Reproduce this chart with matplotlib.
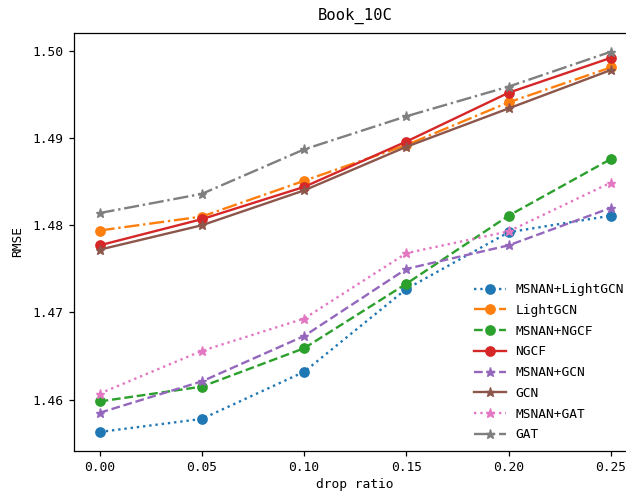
import matplotlib
matplotlib.use("Agg")
import matplotlib.pyplot as plt

plt.rcParams['font.family'] = ['DejaVu Sans Mono']
plt.rcParams['axes.unicode_minus'] = False

drop_ratio = [0.00, 0.05, 0.10, 0.15, 0.20, 0.25]

msnan_lightgcn = [1.4563, 1.4578, 1.4632, 1.4727, 1.4792, 1.4811]
lightgcn       = [1.4794, 1.4810, 1.4851, 1.4892, 1.4941, 1.4981]
msnan_ngcf     = [1.4598, 1.4615, 1.4659, 1.4733, 1.4811, 1.4876]
ngcf           = [1.4777, 1.4807, 1.4844, 1.4896, 1.4952, 1.4992]
msnan_gcn      = [1.4585, 1.4621, 1.4673, 1.4750, 1.4777, 1.4820]
gcn            = [1.4772, 1.4800, 1.4840, 1.4890, 1.4934, 1.4978]
msnan_gat      = [1.4607, 1.4656, 1.4693, 1.4768, 1.4793, 1.4849]
gat            = [1.4814, 1.4836, 1.4887, 1.4925, 1.4959, 1.4999]

series = [
    ("MSNAN+LightGCN", msnan_lightgcn, ":",  "o", "C0"),
    ("LightGCN",       lightgcn,       "-.", "o", "C1"),
    ("MSNAN+NGCF",     msnan_ngcf,     "--", "o", "C2"),
    ("NGCF",           ngcf,           "-",  "o", "C3"),
    ("MSNAN+GCN",      msnan_gcn,      "--", "*", "C4"),
    ("GCN",            gcn,            "-",  "*", "C5"),
    ("MSNAN+GAT",      msnan_gat,      ":",  "*", "C6"),
    ("GAT",            gat,            "-.", "*", "C7"),
]

fig = plt.figure(figsize=(6.26, 4.97), dpi=100)
# the plotting area runs slightly past the right edge of the canvas
ax = fig.add_axes([74 / 626, 46 / 497, 562.5 / 626, 418.3 / 497])

for name, vals, ls, mk, col in series:
    ax.plot(drop_ratio, vals, linestyle=ls, marker=mk, color=col,
            label=name, linewidth=1.7, markersize=6.7)

ax.set_xticks(drop_ratio)
ax.set_xticklabels([f"{v:.2f}" for v in drop_ratio])
ax.set_yticks([1.46, 1.47, 1.48, 1.49, 1.50])
ax.set_yticklabels(["1.46", "1.47", "1.48", "1.49", "1.50"])
ax.tick_params(labelsize=9.3, length=3.9, width=0.9)
for sp in ax.spines.values():
    sp.set_linewidth(0.9)
ax.spines["right"].set_visible(False)

ax.set_title("Book_10C", fontsize=11.2, pad=9)
ax.set_xlabel("drop ratio", fontsize=9.3, labelpad=3)
ax.set_ylabel("RMSE", fontsize=9.3, labelpad=6)

ax.legend(loc="lower right", frameon=False, fontsize=9.3,
          handlelength=2.5, handletextpad=0.7, labelspacing=0.6,
          bbox_to_anchor=(0.9985, -0.005))

fig.savefig("out.png", dpi=100)
